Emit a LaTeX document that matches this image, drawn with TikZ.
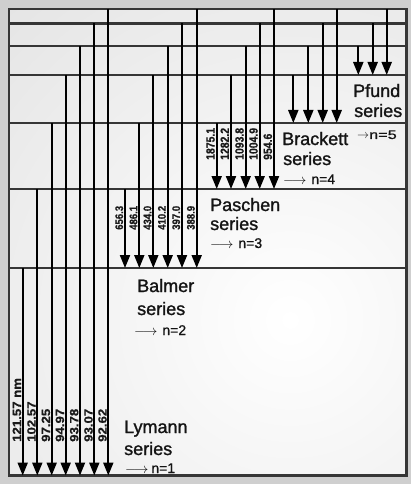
\documentclass[tikz,border=0pt]{standalone}
\usepackage{fontspec}
\setmainfont{Liberation Sans}
\newfontfamily\serfont[FakeBold=1.3]{Liberation Sans}
\newfontfamily\labwide[FakeStretch=1.1,FakeBold=0.6]{Liberation Sans Bold}
\newfontfamily\labnarrow[FakeStretch=0.87,FakeBold=0.6]{Liberation Sans Bold}
\newfontfamily\nfont[FakeBold=0.8]{Liberation Sans}
\newfontfamily\nwide[FakeStretch=1.3,FakeBold=0.8]{Liberation Sans}
\usetikzlibrary{arrows.meta}
\definecolor{outercol}{HTML}{CFCFCF}
\definecolor{boxgray}{HTML}{DADADA}
\definecolor{lvlcol}{HTML}{363636}
\definecolor{txtcol}{HTML}{141414}
\definecolor{labcol}{HTML}{1A1A1A}
\tikzset{
  lvl/.style={line width=2.2pt, draw=lvlcol},
  framebox/.style={line width=2.6pt, draw=lvlcol},
  trans/.style={line width=2pt, draw=black, -{Triangle[width=10pt,length=13pt]}},
  serieslbl/.style={font=\serfont\fontsize{18}{18}\selectfont, anchor=base west, inner sep=0pt, text=txtcol},
  nlbl/.style={font=\nfont\fontsize{14}{14}\selectfont, anchor=base west, inner sep=0pt, text=txtcol},
  wlA/.style={rotate=90, anchor=west, inner sep=0pt, text=labcol, font=\labwide\fontsize{12}{12}\selectfont},
  wlB/.style={rotate=90, anchor=west, inner sep=0pt, text=labcol, font=\labnarrow\fontsize{11}{11}\selectfont},
  wlC/.style={rotate=90, anchor=west, inner sep=0pt, text=labcol, font=\labnarrow\fontsize{12}{12}\selectfont},
}
\newcommand{\larr}{{\fontsize{13.5}{13.5}\selectfont$\longrightarrow$}}
\begin{document}
\begin{tikzpicture}[x=1pt,y=-1pt]
  \useasboundingbox (0,0) rectangle (411,484);
  \fill[outercol] (0,0) rectangle (411,484);
  % box with soft shading
  \coordinate (boxTL) at (9,9);
  \coordinate (boxBR) at (406.5,475.5);
  \fill[boxgray] (boxTL) rectangle (boxBR);
  \begin{scope}
    \clip (boxTL) rectangle (boxBR);
    \shade[inner color=white, outer color=boxgray] (290,320) circle (600);
  \end{scope}
  % energy levels
  \foreach \y [count=\k] in {23.5,46,75,123,189,268} {
    \coordinate (L\k) at (9,\y);
    \coordinate (R\k) at (406.5,\y);
    \draw[lvl] (L\k) -- (R\k);
  }
  \draw[framebox] (boxTL) rectangle (boxBR);
  % Lyman series
  \foreach \x/\ys/\lab [count=\i] in {22.7/268/121.57 nm, 37.3/189/102.57, 51.7/123/97.25, 65.7/75/94.97, 80/46/93.78, 94.3/23.5/93.07, 108.3/9/92.62} {
    \coordinate (ly\i s) at (\x,\ys);
    \coordinate (ly\i e) at (\x,475.5);
    \draw[trans] (ly\i s) -- (ly\i e);
    \node[wlA] (lyl\i) at ({\x-5.8},442) {\lab};
  }
  % Balmer series
  \foreach \x/\ys/\lab [count=\i] in {125/189/656.3, 139.3/123/486.1, 153.3/75/434.0, 167.7/46/410.2, 182/23.5/397.0, 196.7/9/388.9} {
    \coordinate (ba\i s) at (\x,\ys);
    \coordinate (ba\i e) at (\x,268);
    \draw[trans] (ba\i s) -- (ba\i e);
    \node[wlB] (bal\i) at ({\x-5.8},230) {\lab};
  }
  % Paschen series
  \foreach \x/\ys/\lab [count=\i] in {216.7/123/1875.1, 231/75/1282.2, 245.7/46/1093.8, 259.7/23.5/1004.9, 274/9/954.6} {
    \coordinate (pa\i s) at (\x,\ys);
    \coordinate (pa\i e) at (\x,189);
    \draw[trans] (pa\i s) -- (pa\i e);
    \node[wlC] (pal\i) at ({\x-6.2},160) {\lab};
  }
  % Brackett series
  \foreach \x/\ys [count=\i] in {293.3/75, 308.3/46, 322.7/23.5, 336.7/9} {
    \coordinate (br\i s) at (\x,\ys);
    \coordinate (br\i e) at (\x,123);
    \draw[trans] (br\i s) -- (br\i e);
  }
  % Pfund series
  \foreach \x/\ys [count=\i] in {358.3/46, 372.7/23.5, 386.7/9} {
    \coordinate (pf\i s) at (\x,\ys);
    \coordinate (pf\i e) at (\x,75);
    \draw[trans] (pf\i s) -- (pf\i e);
  }
  % series names
  \node[serieslbl] (pfund) at (353,97) {Pfund};
  \node[serieslbl] (pfunds) at (354,117) {series};
  \node[nlbl] (n5) at (357,139) {{\fontsize{13}{13}\selectfont$\rightarrow$}{\nwide\fontsize{12.5}{12.5}\selectfont n=5}};
  \node[serieslbl] (brackett) at (282,145) {Brackett};
  \node[serieslbl] (bracketts) at (283,165) {series};
  \node[nlbl] (n4) at (283,184) {\larr\hspace{5pt}n=4};
  \node[serieslbl] (paschen) at (210,211) {Paschen};
  \node[serieslbl] (paschens) at (210,230) {series};
  \node[nlbl] (n3) at (210,248) {\larr\hspace{5pt}n=3};
  \node[serieslbl] (balmer) at (137,292) {Balmer};
  \node[serieslbl] (balmers) at (137,315) {series};
  \node[nlbl] (n2) at (134,335) {\larr\hspace{5pt}n=2};
  \node[serieslbl] (lymann) at (124,433) {Lymann};
  \node[serieslbl] (lymanns) at (124,455) {series};
  \node[nlbl] (n1) at (125,473) {\larr\hspace{3pt}n=1};
\end{tikzpicture}
\end{document}
